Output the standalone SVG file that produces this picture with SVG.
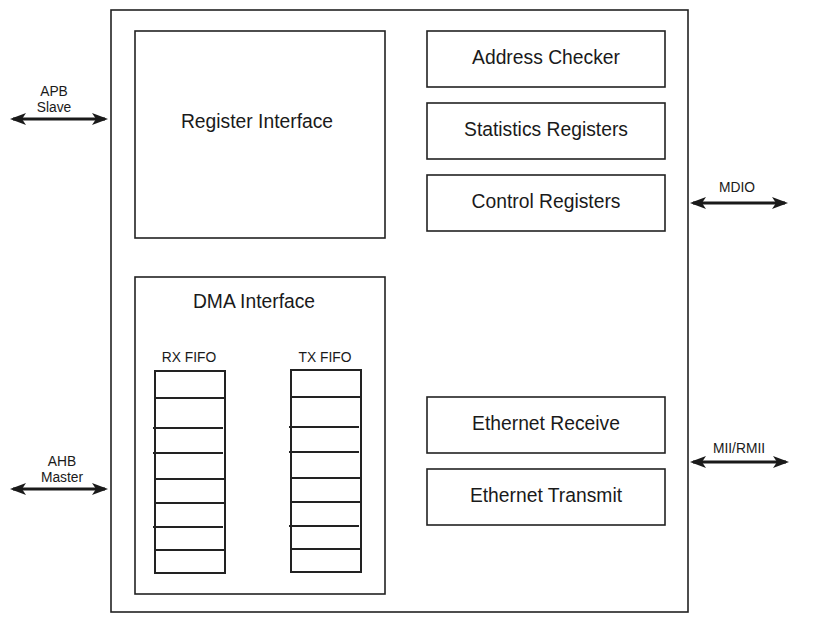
<svg xmlns="http://www.w3.org/2000/svg" width="817" height="623" viewBox="0 0 817 623">
<style>
.box{fill:#fff;stroke:#222;stroke-width:1.6}
.fifo{fill:#fff;stroke:#222;stroke-width:2}
.row{stroke:#222;stroke-width:1.8}
.big{font-family:"Liberation Sans",Arial,sans-serif;font-size:19.3px;fill:#1a1a1a;text-anchor:middle}
.small{font-family:"Liberation Sans",Arial,sans-serif;font-size:13.8px;fill:#1a1a1a;text-anchor:middle}
.arr{stroke:#1a1a1a;stroke-width:3;fill:none;marker-start:url(#ah);marker-end:url(#ah)}
</style>
<defs>
<marker id="ah" viewBox="0 0 16 12" refX="13" refY="6" markerWidth="16" markerHeight="12" markerUnits="userSpaceOnUse" orient="auto-start-reverse">
<path d="M0,0 L16,6 L0,12 L4,6 Z" fill="#1a1a1a"/>
</marker>
</defs>
<rect width="817" height="623" fill="#fff"/>
<g id="outer"><rect class="box" x="111" y="10" width="577" height="602"/></g>
<g id="register-interface"><rect class="box" x="135" y="31" width="250" height="207"/><text class="big" x="257" y="128">Register Interface</text></g>
<g id="address-checker"><rect class="box" x="427" y="31" width="238" height="56"/><text class="big" x="546" y="64">Address Checker</text></g>
<g id="statistics-registers"><rect class="box" x="427" y="103" width="238" height="56"/><text class="big" x="546" y="136">Statistics Registers</text></g>
<g id="control-registers"><rect class="box" x="427" y="175" width="238" height="56"/><text class="big" x="546" y="208">Control Registers</text></g>
<g id="ethernet-receive"><rect class="box" x="427" y="397" width="238" height="56"/><text class="big" x="546" y="430">Ethernet Receive</text></g>
<g id="ethernet-transmit"><rect class="box" x="427" y="469" width="238" height="56"/><text class="big" x="546" y="502">Ethernet Transmit</text></g>
<g id="dma-interface"><rect class="box" x="135" y="277" width="250" height="317"/><text class="big" x="254" y="308">DMA Interface</text></g>
<g id="rx-fifo">
<text class="small" x="189" y="362">RX FIFO</text>
<rect class="fifo" x="155" y="371" width="70" height="202"/>
<line class="row" x1="155" y1="398" x2="225" y2="398"/>
<line class="row" x1="153" y1="428" x2="223" y2="428"/>
<line class="row" x1="153" y1="453" x2="223" y2="453"/>
<line class="row" x1="155" y1="479" x2="225" y2="479"/>
<line class="row" x1="155" y1="503" x2="225" y2="503"/>
<line class="row" x1="153" y1="527" x2="223" y2="527"/>
<line class="row" x1="155" y1="550" x2="225" y2="550"/>
</g>
<g id="tx-fifo">
<text class="small" x="325" y="362">TX FIFO</text>
<rect class="fifo" x="291" y="370" width="70" height="202"/>
<line class="row" x1="291" y1="397" x2="361" y2="397"/>
<line class="row" x1="289" y1="427" x2="359" y2="427"/>
<line class="row" x1="289" y1="452" x2="359" y2="452"/>
<line class="row" x1="291" y1="478" x2="361" y2="478"/>
<line class="row" x1="291" y1="502" x2="361" y2="502"/>
<line class="row" x1="289" y1="526" x2="359" y2="526"/>
<line class="row" x1="291" y1="549" x2="361" y2="549"/>
</g>
<g id="connectors">
<line class="arr" x1="13" y1="119" x2="105" y2="119"/>
<line class="arr" x1="13" y1="489" x2="105" y2="489"/>
<line class="arr" x1="693" y1="203" x2="785" y2="203"/>
<line class="arr" x1="693" y1="462" x2="786" y2="462"/>
</g>
<g id="labels">
<text class="small" x="54" y="96">APB</text>
<text class="small" x="54" y="112">Slave</text>
<text class="small" x="62" y="466">AHB</text>
<text class="small" x="62" y="482">Master</text>
<text class="small" x="737" y="192">MDIO</text>
<text class="small" x="739" y="453">MII/RMII</text>
</g>
</svg>
